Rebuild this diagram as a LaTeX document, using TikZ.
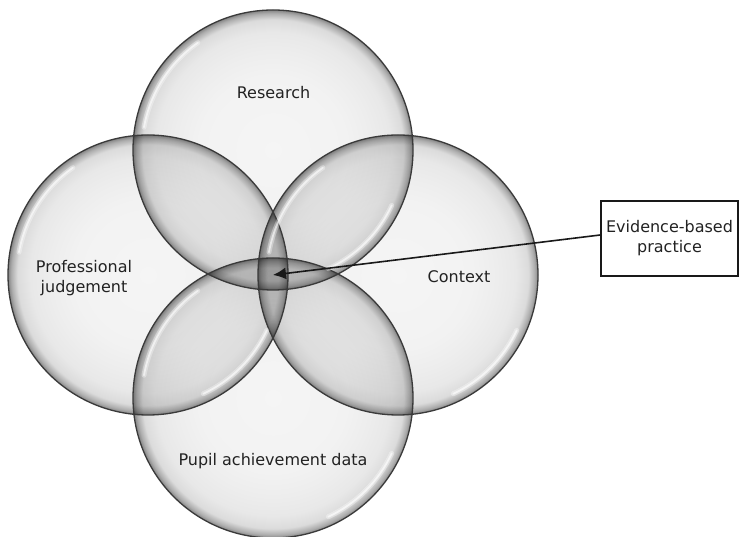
\documentclass[tikz,border=0pt]{standalone}
\usepackage{fontspec}
\setmainfont{DejaVu Sans}
\usetikzlibrary{arrows.meta}
\pgfdeclareradialshading{bubble}{\pgfpoint{0bp}{0bp}}{%
color(0bp)=(black!4); color(13bp)=(black!5); color(17.5bp)=(black!7);
color(21bp)=(black!9); color(23.3bp)=(black!14); color(24.4bp)=(black!32);
color(25bp)=(black!48); color(50bp)=(black!48)}
\definecolor{rim}{HTML}{3A3A3A}
\definecolor{txt}{HTML}{222222}
\tikzset{
  bubblenode/.style={circle, minimum size=280bp, inner sep=0pt, shading=bubble,
    blend mode=multiply},
  rimline/.style={draw=rim, line width=1.3bp},
  shinewide/.style={draw=white, line width=5bp, line cap=round, opacity=0.35},
  shine/.style={draw=white, line width=1.8bp, line cap=round, opacity=0.6},
  lbl/.style={font=\fontsize{16bp}{20.5bp}\selectfont, text=txt, align=center, inner sep=0pt},
  ebpbox/.style={draw=black!90, line width=1.6bp, fill=white, minimum width=137bp,
    minimum height=75bp, inner sep=0pt, align=center,
    font=\fontsize{16bp}{20bp}\selectfont, text=txt},
  arrowline/.style={draw=black!90, line width=1.6bp, -{Latex[length=13bp,width=12bp]}}
}
\begin{document}
\begin{tikzpicture}[x=1bp,y=1bp]
\useasboundingbox (0,0) rectangle (739,537);
% circles
\node[bubblenode] (left) at (148,262) {};
\node[bubblenode] (right) at (398,262) {};
\node[bubblenode] (top) at (273,387) {};
\node[bubblenode] (bottom) at (273,139) {};
% outlines
\foreach \c in {left,right,top,bottom}{
  \draw[rimline] (\c.center) circle[radius=140bp];
}
% highlights
\foreach \c in {left,right,top,bottom}{
  \draw[shinewide] (\c.center) ++(125:131bp) arc[start angle=125, end angle=170, radius=131bp];
  \draw[shine] (\c.center) ++(125:131bp) arc[start angle=125, end angle=170, radius=131bp];
  \draw[shinewide] (\c.center) ++(-25:131bp) arc[start angle=-25, end angle=-65, radius=131bp];
  \draw[shine] (\c.center) ++(-25:131bp) arc[start angle=-25, end angle=-65, radius=131bp];
}
% labels
\node[lbl] (tR) at (273.5,444) {Research};
\node[lbl] (tP) at (84,259) {Professional\\judgement};
\node[lbl] (tC) at (459,260) {Context};
\node[lbl] (tD) at (273,76) {Pupil achievement data};
% evidence-based practice
\coordinate (mid) at (273,262);
\node[ebpbox] (ebp) at (669.5,298.5) {Evidence-based\\practice};
\draw[arrowline] ([yshift=3.5bp]ebp.west) -- (mid);
\end{tikzpicture}
\end{document}
